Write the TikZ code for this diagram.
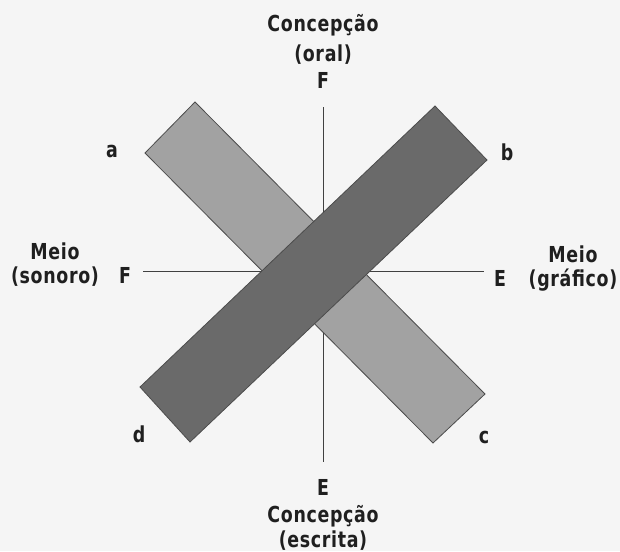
\documentclass[tikz,border=0pt]{standalone}
\usepackage{fontspec}
\setmainfont{DejaVu Sans Condensed}[FakeStretch=0.88, LetterSpace=3]
\usepackage{tikz}
\usetikzlibrary{positioning}
\definecolor{paper}{HTML}{F5F5F5}
\definecolor{barlight}{HTML}{A2A2A2}
\definecolor{bardark}{HTML}{6A6A6A}

\begin{document}
\begin{tikzpicture}[x=1pt, y=-1pt,
    lbl/.style={font=\fontsize{22}{26}\selectfont\bfseries, inner sep=0pt, anchor=base, text=black!88},
    axis/.style={black!75, line width=1pt},
    bar/.style={draw=black!70, line width=0.8pt}]
        \fill[paper] (0,0) rectangle (620,551);
        \useasboundingbox (0,0) rectangle (620,551);

        % axis ends
        \coordinate (axtop) at (323,107);
        \coordinate (axbot) at (323,462);
        \coordinate (axleft) at (143,271);
        \coordinate (axright) at (484,271);
        \draw[axis] (axtop) -- (axbot);
        \draw[axis] (axleft) -- (axright);

        % the two bars
        \draw[bar, fill=barlight] (195,102) -- (485,394) -- (433,443) -- (145,153) -- cycle;
        \draw[bar, fill=bardark] (435,106) -- (487,160) -- (190,442) -- (140,387) -- cycle;

        % top and bottom poles
        \node[lbl] (conctop) at (323,32) {Concepção};
        \node[lbl] (oral) at (323,61) {(oral)};
        \node[lbl] (ftop) at (323,88) {F};
        \node[lbl] (ebot) at (323,495) {E};
        \node[lbl] (concbot) at (323,522) {Concepção};
        \node[lbl] (escrita) at (323,547) {(escrita)};

        % left and right poles
        \node[lbl] (meioleft) at (55,259) {Meio};
        \node[lbl] (sonoro) at (55,283) {(sonoro)};
        \node[lbl] (fleft) at (125,283) {F};
        \node[lbl] (eright) at (500,286) {E};
        \node[lbl] (meioright) at (573,262) {Meio};
        \node[lbl] (grafico) at (573,286) {(gráfico)};

        % corners
        \node[lbl] (ca) at (112,157) {a};
        \node[lbl] (cb) at (507,160) {b};
        \node[lbl] (cc) at (484,443) {c};
        \node[lbl] (cd) at (139,442) {d};
\end{tikzpicture}
\end{document}
